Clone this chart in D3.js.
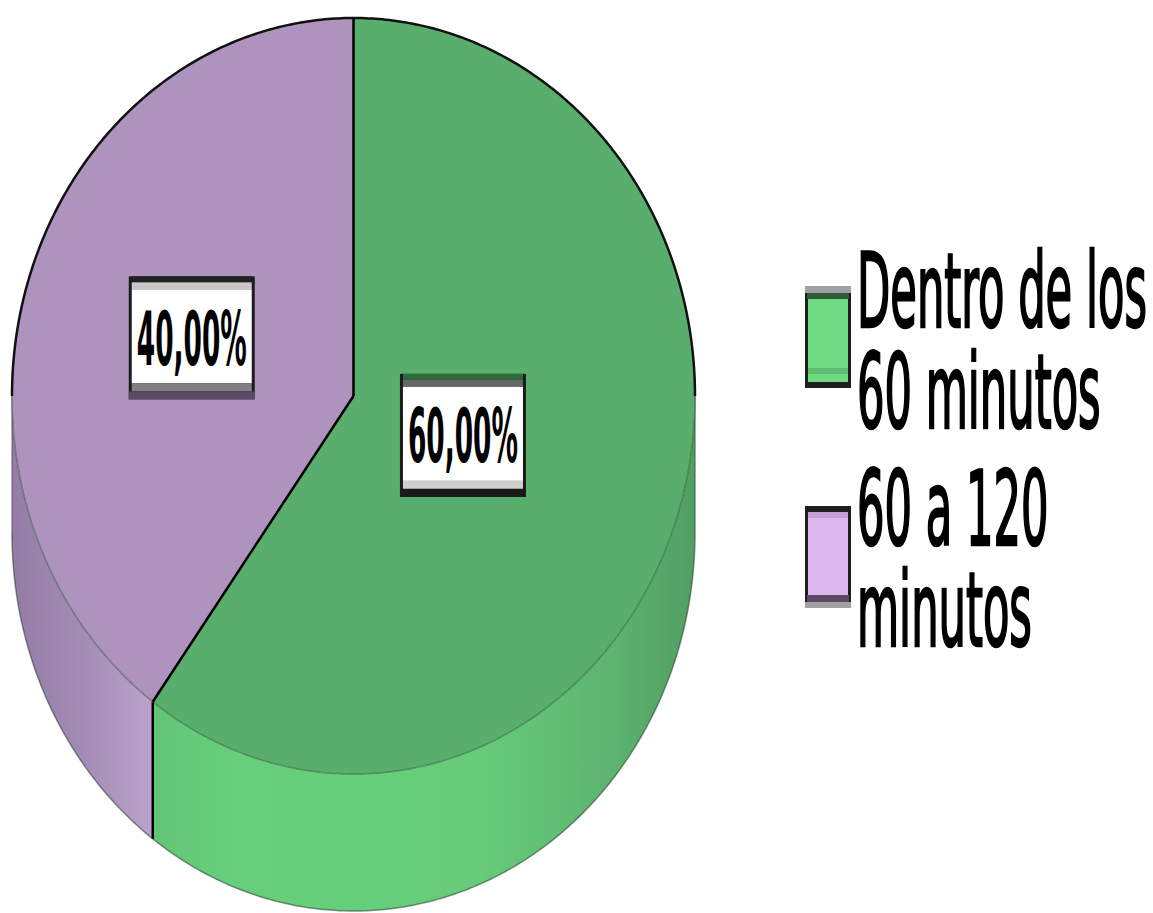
<!DOCTYPE html>
<html>
<head>
<meta charset="utf-8">
<script src="https://cdn.jsdelivr.net/npm/d3@7"></script>
<style>
html,body{margin:0;padding:0;background:#fff;}
svg{display:block;}
</style>
</head>
<body>
<svg id="chart" width="1153" height="913"></svg>
<script>
// ---- data ----
const categories = ["Dentro de los 60 minutos", "60 a 120 minutos"];
const values = [60, 40];
const valueLabels = ["60,00%", "40,00%"];
const legendLines = [["Dentro de los", "60 minutos"], ["60 a 120", "minutos"]];

// ---- styles ----
const topColors = ["#5aae6d", "#ae93be"];
const sideStops = [
  [["0", "#62c576"], ["0.15", "#67cf7b"], ["0.6", "#66cc7a"], ["0.85", "#5db36f"], ["1", "#529e64"]],
  [["0", "#947ca5"], ["0.5", "#a48bb5"], ["1", "#bca3ce"]]
];
const swatchColors = ["#6edb83", "#ddb8f0"];

const svg = d3.select("#chart");
const defs = svg.append("defs");

// geometry
const cx = 353.5, cy = 396, rx = 341.5, ry = 378, depth = 137;
const pt = (a, dy = 0) => [cx + rx * Math.sin(a), cy - ry * Math.cos(a) + dy];
const line = d3.line();

const pie = d3.pie().sort(null).value(d => d);
const arcs = pie(values);

function arcPoints(a0, a1, dy = 0) {
  const n = Math.max(2, Math.ceil((a1 - a0) / 0.01));
  return d3.range(n + 1).map(i => pt(a0 + (a1 - a0) * i / n, dy));
}

// side gradients
arcs.forEach((d, i) => {
  const s0 = Math.max(d.startAngle, Math.PI / 2), s1 = Math.min(d.endAngle, 3 * Math.PI / 2);
  const xs = [pt(s0)[0], pt(s1)[0]];
  const g = defs.append("linearGradient").attr("id", "side" + i)
    .attr("gradientUnits", "userSpaceOnUse")
    .attr("x1", d3.min(xs)).attr("x2", d3.max(xs)).attr("y1", 0).attr("y2", 0);
  sideStops[i].forEach(s => g.append("stop").attr("offset", s[0]).attr("stop-color", s[1]));
});

// sides
const sides = svg.append("g");
arcs.forEach((d, i) => {
  const s0 = Math.max(d.startAngle, Math.PI / 2), s1 = Math.min(d.endAngle, 3 * Math.PI / 2);
  if (s0 >= s1) return;
  const topPts = arcPoints(s0, s1, 0);
  const botPts = arcPoints(s0, s1, depth).reverse();
  sides.append("path").attr("d", line(topPts.concat(botPts)) + "Z")
    .attr("fill", `url(#side${i})`);
  sides.append("path").attr("d", line(arcPoints(s0, s1, depth)))
    .attr("fill", "none").attr("stroke", "rgba(40,60,45,0.55)").attr("stroke-width", 1.5);
});
// vertical edge at slice boundary on the visible side
arcs.forEach(d => {
  const a = d.endAngle;
  if (a > Math.PI / 2 && a < 3 * Math.PI / 2) {
    sides.append("path").attr("d", line([pt(a), pt(a, depth)]))
      .attr("stroke", "#000").attr("stroke-width", 2.5);
  }
});
// faint outer edges of the side
sides.append("path").attr("d", line([pt(3 * Math.PI / 2), pt(3 * Math.PI / 2, depth)]))
  .attr("stroke", "rgba(90,75,100,0.6)").attr("stroke-width", 1.5);
sides.append("path").attr("d", line([pt(Math.PI / 2), pt(Math.PI / 2, depth)]))
  .attr("stroke", "rgba(40,80,50,0.6)").attr("stroke-width", 1.5);

// tops
const tops = svg.append("g");
arcs.forEach((d, i) => {
  const pts = [[cx, cy]].concat(arcPoints(d.startAngle, d.endAngle));
  tops.append("path").attr("d", line(pts) + "Z").attr("fill", topColors[i]);
});
// lower rim of the top face (subtle)
tops.append("path").attr("d", line(arcPoints(Math.PI / 2, 3 * Math.PI / 2)))
  .attr("fill", "none").attr("stroke", "rgba(30,80,45,0.45)").attr("stroke-width", 1.5);
// upper rim black outline
tops.append("path").attr("d", line(arcPoints(-Math.PI / 2, Math.PI / 2)))
  .attr("fill", "none").attr("stroke", "#111").attr("stroke-width", 2.5);
// radial dividers
arcs.forEach(d => {
  tops.append("path").attr("d", line([[cx, cy], pt(d.startAngle)]))
    .attr("stroke", "#000").attr("stroke-width", 2.5).attr("fill", "none");
});

// value labels
const labelRadius = [0.337, 0.498];
const boxW = 126, boxH = 123;
const bandTop = [["#2d6a3e", "#666666"], ["#222222", "#c8c8c8"]];
const bandBot = [["#d0d0d0", "#1a1a1a"], ["#808080", "#5a4a68"]];
const lblG = svg.append("g");
arcs.forEach((d, i) => {
  const mid = (d.startAngle + d.endAngle) / 2;
  const x = cx + rx * labelRadius[i] * Math.sin(mid);
  const y = cy - ry * labelRadius[i] * Math.cos(mid);
  const g = lblG.append("g").attr("transform", `translate(${x - boxW / 2},${y - boxH / 2})`);
  g.append("rect").attr("width", boxW).attr("height", boxH).attr("fill", "#1c1c1c");
  g.append("rect").attr("x", 3).attr("y", 0).attr("width", boxW - 6).attr("height", 6).attr("fill", bandTop[i][0]);
  g.append("rect").attr("x", 3).attr("y", 6).attr("width", boxW - 6).attr("height", 7).attr("fill", bandTop[i][1]);
  g.append("rect").attr("x", 3).attr("y", 13).attr("width", boxW - 6).attr("height", boxH - 29).attr("fill", "#fff");
  g.append("rect").attr("x", 3).attr("y", boxH - 16).attr("width", boxW - 6).attr("height", 8).attr("fill", bandBot[i][0]);
  g.append("rect").attr("x", 0).attr("y", boxH - 8).attr("width", boxW).attr("height", 8).attr("fill", bandBot[i][1]);
  const t = g.append("text").text(valueLabels[i])
    .attr("font-family", "DejaVu Sans Condensed, DejaVu Sans, sans-serif")
    .attr("font-weight", "bold").attr("font-size", 24).attr("fill", "#000");
  const w = t.node().getComputedTextLength();
  const sx = 110 / w, sy = 54 / (0.729 * 24);
  t.attr("transform", `translate(${boxW / 2 - 55},${boxH / 2 + 27}) scale(${sx},${sy})`);
});

// legend
const leg = svg.append("g");
const legendTop = [286, 506];
const legendBase = [327, 545];
const lineStep = 101;
const fontSize = 30;
const legendSy = 75 / (0.729 * fontSize);
let legendSx = null;
legendLines.forEach((lines, i) => {
  const y0 = legendTop[i];
  const g = leg.append("g").attr("transform", `translate(805,${y0})`);
  const h = 102, w = 46;
  g.append("rect").attr("width", w).attr("height", h).attr("fill", "#1e1e1e");
  g.append("rect").attr("x", 3).attr("y", 6).attr("width", w - 6).attr("height", h - 12).attr("fill", swatchColors[i]);
  if (i === 0) {
    g.append("rect").attr("x", 0).attr("y", 0).attr("width", w).attr("height", 7).attr("fill", "#a0a0a0");
    g.append("rect").attr("x", 2).attr("y", 7).attr("width", w - 4).attr("height", 6).attr("fill", "#2f5a3a");
    g.append("rect").attr("x", 3).attr("y", h - 20).attr("width", w - 6).attr("height", 6).attr("fill", "#5fbe72");
  } else {
    g.append("rect").attr("x", 3).attr("y", 6).attr("width", w - 6).attr("height", 6).attr("fill", "#c4a0d6");
    g.append("rect").attr("x", 2).attr("y", h - 13).attr("width", w - 4).attr("height", 7).attr("fill", "#5a4a68");
    g.append("rect").attr("x", 0).attr("y", h - 6).attr("width", w).attr("height", 6).attr("fill", "#a0a0a0");
  }
  const t = leg.append("text")
    .attr("font-family", "DejaVu Sans Condensed, DejaVu Sans, sans-serif")
    .attr("font-weight", "normal").attr("font-size", fontSize).attr("fill", "#000")
    .attr("stroke", "#000").attr("stroke-width", 0.75);
  lines.forEach((ln, j) => {
    t.append("tspan").attr("x", 0).attr("y", j * lineStep / legendSy).text(ln);
  });
  if (legendSx === null) legendSx = 290 / t.select("tspan").node().getComputedTextLength();
  t.attr("transform", `translate(857,${legendBase[i]}) scale(${legendSx},${legendSy})`);
});
</script>
</body>
</html>
